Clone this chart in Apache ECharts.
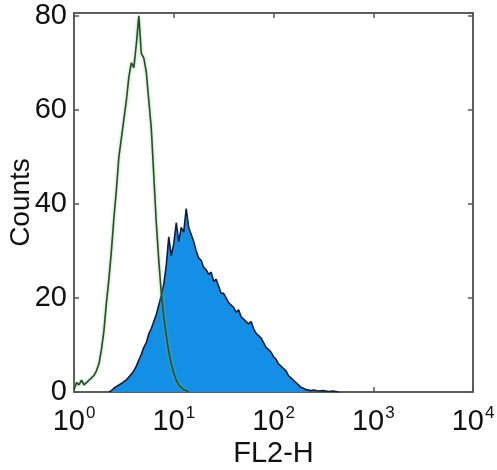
<!DOCTYPE html>
<html>
<head>
<meta charset="utf-8">
<script src="https://cdn.jsdelivr.net/npm/echarts@6/dist/echarts.min.js"></script>
<style>html,body{margin:0;padding:0;background:#fff;}#c{width:497px;height:470px;}</style>
</head>
<body>
<div id="c"></div>
<script>
// log10(FL2-H) positions and counts for the control (green outline) histogram
const greenLog = [0.000,0.025,0.050,0.075,0.100,0.125,0.150,0.175,0.200,0.225,0.250,0.275,0.300,0.325,0.350,0.375,0.400,0.425,0.450,0.475,0.500,0.525,0.550,0.575,0.600,0.625,0.650,0.675,0.700,0.725,0.750,0.775,0.800,0.825,0.850,0.875,0.900,0.925,0.950,0.975,1.000,1.025,1.050,1.075,1.100,1.125,1.150];
const greenCounts = [0.5,2,1.5,2.5,1.5,2,2.5,3,3.5,4.5,6,9,13,19,24,30,37,43,50,54,58,62,67,70,69,74,80,72,71,68,62,56,46,36,28,21,16,12,8.5,6,4,2.5,1.5,1,0.5,0.3,0];
// stained sample (filled blue) histogram
const blueLog = [0.350,0.375,0.400,0.425,0.450,0.475,0.500,0.525,0.550,0.575,0.600,0.625,0.650,0.675,0.700,0.725,0.750,0.775,0.800,0.825,0.850,0.875,0.900,0.925,0.950,0.975,1.000,1.025,1.050,1.075,1.100,1.125,1.150,1.175,1.200,1.225,1.250,1.275,1.300,1.325,1.350,1.375,1.400,1.425,1.450,1.475,1.500,1.525,1.550,1.575,1.600,1.625,1.650,1.675,1.700,1.725,1.750,1.775,1.800,1.825,1.850,1.875,1.900,1.925,1.950,1.975,2.000,2.025,2.050,2.075,2.100,2.125,2.150,2.175,2.200,2.225,2.250,2.275,2.300,2.325,2.350,2.375,2.400,2.450,2.500,2.550,2.600,2.650];
const blueCounts = [0,0.3,0.8,1.2,1.5,1.8,2.2,2.6,3.2,3.8,4.5,5.5,6.8,8,9.5,10.5,12.4,13.5,15,16.5,18.5,20.5,23,27,33,29,31.5,36,32,35,34,39,35,33.5,32,30,28.5,28,26.5,26,25,25.5,23.5,24,22.5,21,21,20,19,18.5,18,17,17.5,16,15.5,15,14.5,15,13.5,12.5,12,11.5,10.5,9.5,9,8.5,7.5,7,6,5.5,5,4.5,3.5,3,2.5,2,1.5,1,0.8,0.5,0.4,0.3,0.4,0.2,0.3,0.1,0.2,0];
// axes
const xDecades = [0,1,2,3,4];
const yTicks = [0,20,40,60,80];
const xName = 'FL2-H';
const yName = 'Counts';

const zip = (a,b) => a.map((v,i)=>[v,b[i]]);
const chart = echarts.init(document.getElementById('c'), null, {renderer:'canvas'});
const font = 'Liberation Sans, Arial, sans-serif';
const axisCol = '#555';
const txtCol = '#111';
chart.setOption({
  animation:false,
  backgroundColor:'#fff',
  grid:{left:74,right:24,top:13,bottom:78,containLabel:false,outerBoundsMode:'none',
    show:true,borderColor:axisCol,borderWidth:1.5,backgroundColor:'transparent'},
  xAxis:[{
    type:'value',min:xDecades[0],max:xDecades[xDecades.length-1],interval:1,
    axisLine:{onZero:false,lineStyle:{color:axisCol,width:1.5}},
    axisTick:{inside:true,length:5,lineStyle:{color:axisCol,width:1.5}},
    splitLine:{show:false},
    axisLabel:{margin:13,fontFamily:font,color:txtCol,
      formatter:v=>'{b|10}{s|'+v+'}',
      rich:{b:{fontSize:29,fontFamily:font,color:txtCol},s:{fontSize:17,fontFamily:font,color:txtCol,padding:[0,0,16,1]}}},
    name:xName,nameLocation:'middle',nameGap:47,nameMoveOverlap:false,
    nameTextStyle:{fontSize:29,fontFamily:font,color:txtCol}
  },{
    type:'value',position:'top',min:0,max:4,interval:1,
    axisLine:{show:true,onZero:false,lineStyle:{color:axisCol,width:1.5}},
    axisTick:{show:true,inside:true,length:5,lineStyle:{color:axisCol,width:1.5}},
    axisLabel:{show:false},splitLine:{show:false}
  }],
  yAxis:[{
    type:'value',min:0,max:80.6,interval:20,
    axisLine:{show:true,onZero:false,lineStyle:{color:axisCol,width:1.5}},
    axisTick:{show:true,inside:true,length:5,lineStyle:{color:axisCol,width:1.5}},
    splitLine:{show:false},
    axisLabel:{margin:7,fontSize:29,fontFamily:font,color:txtCol,showMaxLabel:false,
      formatter:v=>yTicks.indexOf(v)>=0?String(v):''},
    name:yName,nameLocation:'middle',nameGap:39,nameRotate:90,nameMoveOverlap:false,
    nameTextStyle:{fontSize:28,fontFamily:font,color:txtCol}
  },{
    type:'value',position:'right',min:0,max:80.6,interval:20,
    axisLine:{show:true,onZero:false,lineStyle:{color:axisCol,width:1.5}},
    axisTick:{show:true,inside:true,length:5,lineStyle:{color:axisCol,width:1.5}},
    axisLabel:{show:false},splitLine:{show:false}
  }],
  series:[{
    type:'line',data:zip(blueLog,blueCounts),showSymbol:false,symbol:'none',
    lineStyle:{color:'#0d1f3c',width:1.6},
    areaStyle:{color:'#148fe6',opacity:1},z:2
  },{
    type:'line',data:zip(greenLog,greenCounts),showSymbol:false,symbol:'none',
    lineStyle:{color:'#2b4a2b',width:1.6,shadowColor:'rgba(110,200,110,0.8)',shadowBlur:3},z:3
  },{
    type:'line',xAxisIndex:1,yAxisIndex:1,data:[[-1,-1]],symbol:'none',showSymbol:false,
    lineStyle:{opacity:0},silent:true
  }]
});
</script>
</body>
</html>
